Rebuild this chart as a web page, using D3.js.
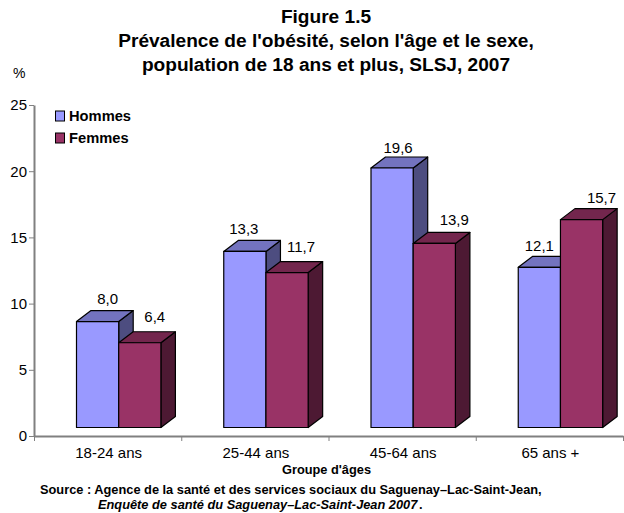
<!DOCTYPE html>
<html>
<head>
<meta charset="utf-8">
<script src="https://cdn.jsdelivr.net/npm/d3@7"></script>
<style>
  body { margin: 0; background: #fff; }
  text { font-family: "Liberation Sans", Arial, sans-serif; fill: #000; }
  .axis path, .axis line { stroke: #808080; }
</style>
</head>
<body>
<div class="chart"></div>
<script>
// data
const categories = ["18-24 ans", "25-44 ans", "45-64 ans", "65 ans +"];
const hommes = [8.0, 13.3, 19.6, 12.1];
const femmes = [6.4, 11.7, 13.9, 15.7];
const yTicks = [0, 5, 10, 15, 20, 25];
const titleLines = ["Figure 1.5", "Prévalence de l'obésité, selon l'âge et le sexe,", "population de 18 ans et plus, SLSJ, 2007"];

const svgWidth = 624;
const svgHeight = 513;

// label nudges, the labels sit by hand in the original
const nudgeHommes = [[10, -1], [-1, 0], [6, 2], [0, 1]];
const nudgeFemmes = [[15, -4], [14, -4], [20, -1], [20, 0]];

const colors = {
  Hommes: { front: "#9999ff", top: "#7373bf", side: "#4d4d80" },
  Femmes: { front: "#993366", top: "#73264d", side: "#4d1933" }
};

const plot = { left: 34, right: 623, top: 105, bottom: 436 };
const depthX = 14.5;
const depthY = 11;
const floorGap = 8.5;
const barWidth = 42.2;

let svg = d3.select(".chart").append("svg")
  .attr("width", svgWidth)
  .attr("height", svgHeight);

let xScale = d3.scaleBand().domain(categories).range([plot.left, plot.right]);
let yScale = d3.scaleLinear().domain([0, 25]).range([plot.bottom, plot.top]);

// y axis
svg.append("g")
  .attr("class", "axis")
  .attr("transform", `translate(${plot.left},0)`)
  .call(d3.axisLeft(yScale).tickValues(yTicks).tickSize(5).tickSizeOuter(0).tickPadding(2))
  .call(g => g.select(".domain").attr("stroke-width", 2))
  .call(g => g.selectAll("text").attr("font-size", 15).attr("font-family", "Liberation Sans").attr("fill", "#000"));

// x axis, ticks sit between the categories
let edges = d3.range(categories.length + 1).map(i => plot.left + i * xScale.bandwidth());
svg.append("g")
  .attr("class", "axis")
  .attr("transform", `translate(0,${plot.bottom})`)
  .call(d3.axisBottom(d3.scaleLinear().domain([plot.left, plot.right]).range([plot.left, plot.right]))
    .tickValues(edges).tickSize(5).tickSizeOuter(0).tickFormat(""))
  .call(g => g.select(".domain").attr("stroke-width", 2));

svg.selectAll(".catLabel")
  .data(categories)
  .enter()
  .append("text")
  .attr("class", "catLabel")
  .attr("x", d => xScale(d) + xScale.bandwidth() / 2 + 1)
  .attr("y", 458)
  .attr("text-anchor", "middle")
  .attr("font-size", 15)
  .text(d => d);

// one 3d bar: side, top, then front
function drawBar(x, value, c) {
  let yTop = yScale(value) - floorGap;
  let yBase = plot.bottom - floorGap;
  let g = svg.append("g").attr("stroke", "#000").attr("stroke-width", 1.2).attr("stroke-linejoin", "round");
  g.append("path")
    .attr("fill", c.side)
    .attr("d", `M${x + barWidth},${yTop}l${depthX},${-depthY}V${yBase - depthY}l${-depthX},${depthY}Z`);
  g.append("path")
    .attr("fill", c.top)
    .attr("d", `M${x},${yTop}l${depthX},${-depthY}h${barWidth}l${-depthX},${depthY}Z`);
  g.append("rect")
    .attr("fill", c.front)
    .attr("x", x)
    .attr("y", yTop)
    .attr("width", barWidth)
    .attr("height", yBase - yTop);
}

function drawLabel(x, value, nudge) {
  svg.append("text")
    .attr("x", x + barWidth / 2 + nudge[0])
    .attr("y", yScale(value) - floorGap - depthY - 6 + nudge[1])
    .attr("text-anchor", "middle")
    .attr("font-size", 15)
    .text(value.toFixed(1).replace(".", ","));
}

const barStart = 42.5; // first bar starts this far into its band
categories.forEach(function(cat, i) {
  let x0 = xScale(cat) + barStart;
  let x1 = x0 + barWidth;
  drawBar(x0, hommes[i], colors.Hommes);
  drawBar(x1, femmes[i], colors.Femmes);
  drawLabel(x0, hommes[i], nudgeHommes[i]);
  drawLabel(x1, femmes[i], nudgeFemmes[i]);
});

// legend
[["Hommes", 111], ["Femmes", 133]].forEach(function(d) {
  svg.append("rect")
    .attr("x", 55.5).attr("y", d[1]).attr("width", 9).attr("height", 10)
    .attr("fill", colors[d[0]].front).attr("stroke", "#000");
  svg.append("text")
    .attr("x", 69).attr("y", d[1] + 10)
    .attr("font-size", 14.7).attr("font-weight", "bold")
    .text(d[0]);
});

// titles
svg.selectAll(".title")
  .data(titleLines)
  .enter()
  .append("text")
  .attr("class", "title")
  .attr("x", 326)
  .attr("y", (d, i) => 23 + i * 24)
  .attr("text-anchor", "middle")
  .attr("font-size", 19.1)
  .attr("font-weight", "bold")
  .text(d => d);

svg.append("text").attr("x", 13).attr("y", 78).attr("font-size", 14).text("%");

svg.append("text")
  .attr("x", 326.5).attr("y", 474)
  .attr("text-anchor", "middle")
  .attr("font-size", 12.8).attr("font-weight", "bold")
  .text("Groupe d'âges");

svg.append("text")
  .attr("x", 40).attr("y", 494)
  .attr("font-size", 12.8).attr("font-weight", "bold")
  .text("Source : Agence de la santé et des services sociaux du Saguenay–Lac-Saint-Jean,");

let source2 = svg.append("text")
  .attr("x", 98).attr("y", 509)
  .attr("font-size", 12.8).attr("font-weight", "bold");
source2.append("tspan").attr("font-style", "italic").text("Enquête de santé du Saguenay–Lac-Saint-Jean 2007");
source2.append("tspan").text(" .").attr("letter-spacing", -2);
</script>
</body>
</html>
